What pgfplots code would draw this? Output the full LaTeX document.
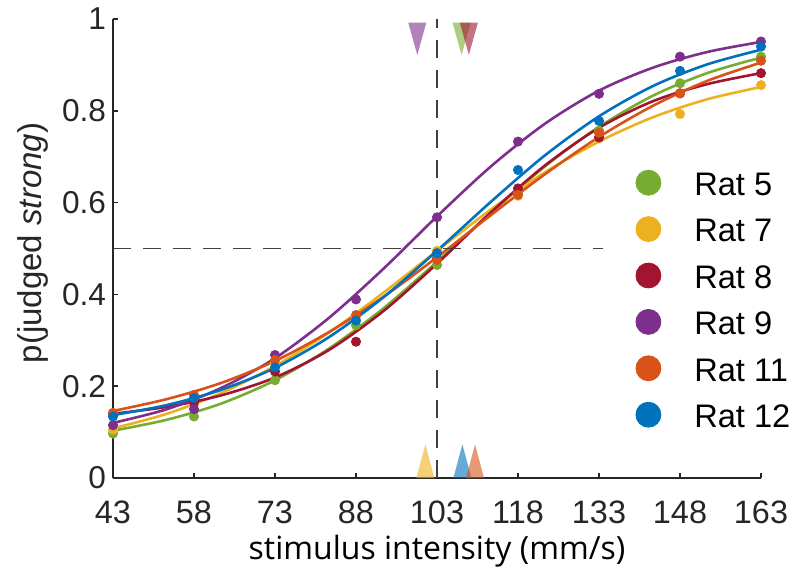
\documentclass[border=0pt]{standalone}
\usepackage{pgfplots}
\pgfplotsset{compat=1.18}
\usepackage{pgfplotstable}
\usepackage{fontspec}
\setmainfont{Liberation Sans}
\newfontfamily\xlabfont{Open Sans}
\definecolor{c5}{HTML}{77AC30}
\definecolor{c7}{HTML}{EDB120}
\definecolor{c8}{HTML}{A2142F}
\definecolor{c9}{HTML}{7E2F8E}
\definecolor{c11}{HTML}{D95319}
\definecolor{c12}{HTML}{0072BD}
\definecolor{axgray}{HTML}{262626}
\definecolor{dashgray}{HTML}{404040}

% fitted curves
\pgfplotstableread{
x   r5    r7    r8    r9    r11   r12
43  0.103 0.108 0.140 0.120 0.146 0.137
53  0.127 0.140 0.155 0.150 0.172 0.159
63  0.162 0.185 0.180 0.196 0.207 0.192
73  0.213 0.244 0.219 0.261 0.255 0.240
83  0.282 0.317 0.279 0.349 0.318 0.307
93  0.369 0.403 0.363 0.455 0.394 0.393
103 0.471 0.495 0.467 0.570 0.481 0.495
113 0.578 0.585 0.579 0.679 0.573 0.602
123 0.679 0.666 0.681 0.772 0.662 0.703
133 0.765 0.733 0.763 0.844 0.743 0.788
143 0.833 0.786 0.821 0.894 0.811 0.854
153 0.882 0.825 0.858 0.928 0.865 0.901
163 0.916 0.852 0.882 0.950 0.905 0.933
}\curves

% observed proportions
\pgfplotstableread{
x   r5    r7    r8    r9    r11   r12
43  0.097 0.105 0.140 0.115 0.142 0.134
58  0.134 0.160 0.165 0.150 0.181 0.174
73  0.213 0.250 0.232 0.268 0.257 0.241
88  0.333 0.352 0.297 0.389 0.355 0.343
103 0.464 0.495 0.478 0.568 0.475 0.490
118 0.622 0.615 0.631 0.733 0.617 0.671
133 0.757 0.740 0.742 0.837 0.752 0.778
148 0.860 0.793 0.838 0.918 0.838 0.887
163 0.918 0.856 0.882 0.951 0.909 0.940
}\dots

\newcommand\legcirc[1]{\addlegendimage{legend image code/.code={\fill[#1] (6.25pt,6.4pt) circle (6.25pt);}}}

\begin{document}
\begin{tikzpicture}
\begin{axis}[
  scale only axis, width=324pt, height=229.5pt,
  xmin=43, xmax=163, ymin=0, ymax=1,
  enlargelimits=false, clip=false,
  axis lines=left,
  axis line style={-, draw=axgray, line width=0.8pt},
  tick align=inside, major tick length=2.6pt,
  tick style={draw=axgray, line width=0.8pt},
  xtick={43,58,73,88,103,118,133,148,163},
  xticklabels={43,58,73,88,103,118,133,148,163},
  ytick={0,0.2,0.4,0.6,0.8,1},
  yticklabels={0,0.2,0.4,0.6,0.8,1},
  xticklabel style={font=\fontsize{16.2}{19}\selectfont, text=axgray, anchor=base, yshift=-22.6pt},
  yticklabel style={font=\fontsize{15.8}{18}\selectfont, text=axgray},
  xlabel={stimulus intensity (mm/s)},
  xlabel style={font=\xlabfont\fontsize{16}{19}\selectfont, text=black,
    at={(axis description cs:0.5,-0.1786)}, anchor=base},
  ylabel={p(judged \textit{strong})},
  ylabel style={font=\fontsize{16.5}{19}\selectfont, text=axgray,
    at={(axis description cs:-0.1235,0.512)}, anchor=center},
  legend style={draw=none, fill=none, inner sep=0pt, outer sep=0pt,
    at={(axis cs:139.76,0.6715)}, anchor=north west,
    font=\fontsize{16.3}{19}\selectfont,
    row sep=10.3pt, column sep=16.5pt,
    nodes={inner sep=0pt, outer sep=0pt, text height=11.7pt, text depth=0pt, anchor=base west}},
  legend cell align=left,
]
% curves and dots
\addplot[c5,  line width=1.3pt, smooth, forget plot] table[x=x,y=r5]  {\curves};
\addplot[c5,  only marks, mark=*, mark size=2.3pt, forget plot] table[x=x,y=r5]  {\dots};
\addplot[c7,  line width=1.3pt, smooth, forget plot] table[x=x,y=r7]  {\curves};
\addplot[c7,  only marks, mark=*, mark size=2.3pt, forget plot] table[x=x,y=r7]  {\dots};
\addplot[c8,  line width=1.3pt, smooth, forget plot] table[x=x,y=r8]  {\curves};
\addplot[c8,  only marks, mark=*, mark size=2.3pt, forget plot] table[x=x,y=r8]  {\dots};
\addplot[c9,  line width=1.3pt, smooth, forget plot] table[x=x,y=r9]  {\curves};
\addplot[c9,  only marks, mark=*, mark size=2.3pt, forget plot] table[x=x,y=r9]  {\dots};
\addplot[c11, line width=1.3pt, smooth, forget plot] table[x=x,y=r11] {\curves};
\addplot[c11, only marks, mark=*, mark size=2.3pt, forget plot] table[x=x,y=r11] {\dots};
\addplot[c12, line width=1.3pt, smooth, forget plot] table[x=x,y=r12] {\curves};
\addplot[c12, only marks, mark=*, mark size=2.3pt, forget plot] table[x=x,y=r12] {\dots};
% reference lines
\addplot[dashgray, line width=0.8pt, dash pattern=on 9pt off 6pt, forget plot] coordinates {(103,0) (103,1)};
\addplot[dashgray, line width=0.8pt, dash pattern=on 9pt off 6pt, forget plot] coordinates {(43,0.5) (133.7,0.5)};
% threshold markers (top)
\addplot[draw=none, fill=c9, fill opacity=0.6, forget plot] coordinates {(97.68,0.992) (101.02,0.992) (99.35,0.9216)} -- cycle;
\addplot[draw=none, fill=c5, fill opacity=0.6, forget plot] coordinates {(105.88,0.992) (109.22,0.992) (107.55,0.9216)} -- cycle;
\addplot[draw=none, fill=c8, fill opacity=0.6, forget plot] coordinates {(107.23,0.992) (110.57,0.992) (108.9,0.9216)} -- cycle;
% threshold markers (bottom)
\addplot[draw=none, fill=c7, fill opacity=0.6, forget plot] coordinates {(99.18,0) (102.52,0) (100.85,0.0733)} -- cycle;
\addplot[draw=none, fill=c12, fill opacity=0.6, forget plot] coordinates {(106.03,0) (109.37,0) (107.7,0.0733)} -- cycle;
\addplot[draw=none, fill=c11, fill opacity=0.6, forget plot] coordinates {(108.37,0) (111.71,0) (110.04,0.0733)} -- cycle;
% legend
\legcirc{c5}  \addlegendentry{Rat 5}
\legcirc{c7}  \addlegendentry{Rat 7}
\legcirc{c8}  \addlegendentry{Rat 8}
\legcirc{c9}  \addlegendentry{Rat 9}
\legcirc{c11} \addlegendentry{Rat 11}
\legcirc{c12} \addlegendentry{Rat 12}
\end{axis}
\pgfresetboundingbox
\path (-56.5pt,-50.5pt) rectangle (347pt,239pt);
\end{tikzpicture}
\end{document}
